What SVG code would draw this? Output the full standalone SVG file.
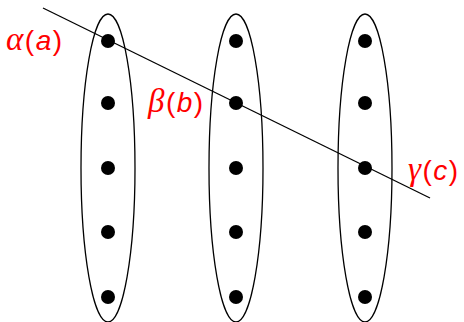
<svg xmlns="http://www.w3.org/2000/svg" width="464" height="322" viewBox="0 0 464 322">
<style>
.set{fill:none;stroke:#000;stroke-width:1.3}
.dot{fill:#000}
.lbl{fill:#ff0000;font-family:"Liberation Sans",sans-serif;font-size:28px;letter-spacing:1.5px}
.gr{font-family:"Liberation Serif",serif;font-style:italic;font-size:33px}
.it{font-style:italic}
</style>
<rect width="464" height="322" fill="#fff"/>
<g id="set1">
<ellipse class="set" cx="108" cy="168" rx="27" ry="154"/>
<circle class="dot" cx="108" cy="41" r="7"/>
<circle class="dot" cx="108" cy="103" r="7"/>
<circle class="dot" cx="108" cy="168" r="7"/>
<circle class="dot" cx="108" cy="232" r="7"/>
<circle class="dot" cx="108" cy="297" r="7"/>
</g>
<g id="set2">
<ellipse class="set" cx="236" cy="168" rx="27" ry="154"/>
<circle class="dot" cx="236" cy="41" r="7"/>
<circle class="dot" cx="236" cy="103" r="7"/>
<circle class="dot" cx="236" cy="168" r="7"/>
<circle class="dot" cx="236" cy="232" r="7"/>
<circle class="dot" cx="236" cy="297" r="7"/>
</g>
<g id="set3">
<ellipse class="set" cx="365" cy="168" rx="27" ry="154"/>
<circle class="dot" cx="365" cy="41" r="7"/>
<circle class="dot" cx="365" cy="103" r="7"/>
<circle class="dot" cx="365" cy="168" r="7"/>
<circle class="dot" cx="365" cy="232" r="7"/>
<circle class="dot" cx="365" cy="297" r="7"/>
</g>
<g id="connectors">
<line x1="43" y1="8" x2="430" y2="198" stroke="#000" stroke-width="1.3"/>
</g>
<g id="labels">
<text class="lbl" x="6" y="50"><tspan class="gr">α</tspan>(<tspan class="it">a</tspan>)</text>
<text class="lbl" x="148" y="112"><tspan class="gr">β</tspan>(<tspan class="it">b</tspan>)</text>
<text class="lbl" x="408" y="180"><tspan class="gr">γ</tspan>(<tspan class="it">c</tspan>)</text>
</g>
</svg>
